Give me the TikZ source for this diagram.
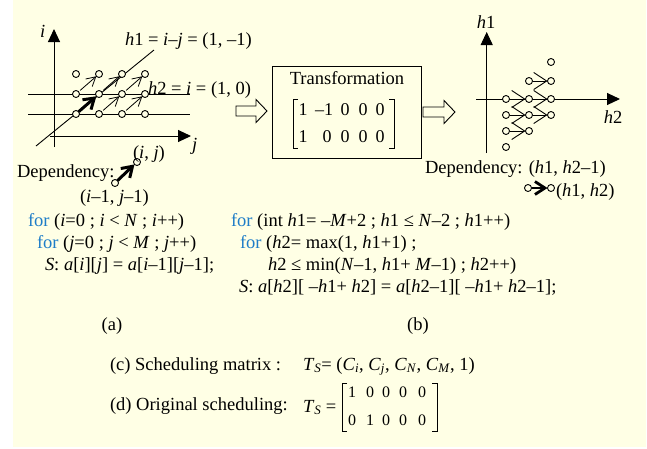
\documentclass[tikz,border=0pt]{standalone}
\usepackage{fontspec}
\setmainfont{Liberation Serif}
\usetikzlibrary{arrows.meta}
\definecolor{bgy}{RGB}{255,255,229}
\definecolor{forblue}{RGB}{30,125,200}
\newcommand{\kw}[1]{{\color{forblue}#1}}
\newcommand{\vv}[1]{\textit{#1}}
\begin{document}
\begin{tikzpicture}[x=1pt,y=-1pt,
  every node/.style={font=\fontsize{18.5}{22}\selectfont, inner sep=0pt, outer sep=0pt},
  txt/.style={anchor=base west},
  ctxt/.style={anchor=base},
  mtx/.style={anchor=base, font=\fontsize{18}{20}\selectfont},
  mtxs/.style={anchor=base, font=\fontsize{16}{18}\selectfont},
  dot/.style={circle, draw, fill=bgy, minimum size=7pt, line width=0.9pt},
  axis/.style={line width=1pt, -{Triangle[length=13pt,width=12pt]}},
  thinline/.style={line width=0.9pt},
  thinarr/.style={line width=0.8pt, -{Straight Barb[length=9pt,width=10pt]}, shorten <=2pt},
  boldarr/.style={line width=3pt, -{Straight Barb[length=10pt,width=13pt]}},
  vee/.style={line width=0.9pt, -{Straight Barb[length=13pt,width=17pt]}},
  boldvee/.style={line width=2.8pt, -{Straight Barb[length=10pt,width=13pt]}},
  blockarr/.style={line width=0.9pt, fill=bgy},
  bracket/.style={line width=0.9pt}
]
\useasboundingbox (0,0) rectangle (647,448);
\fill[white] (0,0) rectangle (647,448);
\fill[bgy] (13,0) rectangle (646,447);

% ---------- left lattice ----------
\coordinate (iaxB) at (54,147); \coordinate (iaxT) at (54,29);
\coordinate (jaxL) at (50,136); \coordinate (jaxR) at (191,136);
\coordinate (hlAa) at (28,94);  \coordinate (hlAb) at (190,94);
\coordinate (hlBa) at (28,114); \coordinate (hlBb) at (190,114);
\coordinate (dgA) at (36,146);  \coordinate (dgB) at (154,50);
\draw[thinline] (hlAa) -- (hlAb);
\draw[thinline] (hlBa) -- (hlBb);
\draw[thinline] (dgA) -- (dgB);
\draw[axis] (iaxB) -- (iaxT);
\draw[axis] (jaxL) -- (jaxR);
\node[txt] (ilab) at (40,37) {\vv{i}};
\node[txt] (jlab) at (192,150) {\vv{j}};
\foreach \c in {0,...,3}{\foreach \r in {0,1,2}{
  \node[dot] (g\c\r) at ({76+23*\c},{114-20*\r}) {};}}
\foreach \a/\b in {10/21,20/31,01/12,11/22,21/32}{\draw[thinarr] (g\a) -- (g\b);}
\draw[boldarr] (g00) -- (g11);
\node[txt] (h1lab) at (125,45) {\vv{h}1 = \vv{i}–\vv{j} = (1, –1)};
\node[txt] (h2lab) at (148,94) {\vv{h}2 = \vv{i} = (1, 0)};

% dependency (left)
\node[txt] (depL) at (17,177) {Dependency:};
\node[dot] (dl1) at (115,183) {};
\node[dot] (dl2) at (137,162) {};
\draw[boldarr] (dl1) -- (dl2);
\node[txt] (ijlab) at (133,158) {(\vv{i}, \vv{j})};
\node[txt] (ijmlab) at (80,202) {(\vv{i}–1, \vv{j}–1)};

% ---------- block arrows ----------
\draw[blockarr] (236,106) -- (256,106) -- (256,99.5) -- (267,111) -- (256,122.5) -- (256,116) -- (236,116) -- cycle;
\draw[blockarr] (423,107) -- (444,107) -- (444,100.5) -- (455,112) -- (444,123.5) -- (444,117) -- (423,117) -- cycle;

% ---------- transformation box ----------
\node[draw, line width=1pt, minimum width=149pt, minimum height=92pt] (tbox) at (346.5,112) {};
\node[ctxt] (ttl) at (347,84) {Transformation};
\draw[bracket] (298,99) -- (293,99) -- (293,148) -- (298,148);
\draw[bracket] (389,99) -- (394,99) -- (394,148) -- (389,148);
\node[mtx] (ta1) at (303,115) {1};
\node[mtx, anchor=base east] (ta2) at (333,115) {–1};
\node[mtx] (ta3) at (345,115) {0};
\node[mtx] (ta4) at (363,115) {0};
\node[mtx] (ta5) at (380,115) {0};
\node[mtx] (tb1) at (303,142) {1};
\node[mtx] (tb2) at (327,142) {0};
\node[mtx] (tb3) at (345,142) {0};
\node[mtx] (tb4) at (363,142) {0};
\node[mtx] (tb5) at (380,142) {0};

% ---------- right lattice ----------
\coordinate (h1B) at (486.7,153); \coordinate (h1T) at (486.7,32);
\coordinate (h2L) at (476,99);    \coordinate (h2R) at (620,99);
\draw[axis] (h1B) -- (h1T);
\draw[axis] (h2L) -- (h2R);
\node[ctxt] (h1ax) at (486,28) {\vv{h}1};
\node[ctxt] (h2ax) at (613,123) {\vv{h}2};
\node[dot] (r02) at (551,62) {};
\node[dot] (r11) at (529,81) {};
\node[dot] (r12) at (551,81) {};
\node[dot] (r20) at (506,99) {};
\node[dot] (r21) at (529,99) {};
\node[dot] (r22) at (551,99) {};
\node[dot] (r30) at (506,115) {};
\node[dot] (r31) at (529,115) {};
\node[dot] (r32) at (551,115) {};
\node[dot] (r40) at (506,131) {};
\node[dot] (r41) at (529,131) {};
\node[dot] (r50) at (506,147) {};
\foreach \a/\b in {11/12,20/21,21/22,30/31,31/32,40/41}{\draw[vee] (r\a) -- (r\b);}

% dependency (right)
\node[txt] (depR) at (425,173) {Dependency: (\vv{h}1, \vv{h}2–1)};
\node[dot] (dr1) at (528,188) {};
\node[dot] (dr2) at (551,188) {};
\draw[boldvee] (dr1) -- (dr2);
\node[txt] (hhlab) at (556,196) {(\vv{h}1, \vv{h}2)};

% ---------- code (a) ----------
\node[txt] (ca1) at (28,226) {\kw{for} (\vv{i}=0 ; \vv{i} < \vv{N} ; \vv{i}++)};
\node[txt] (ca2) at (37,248) {\kw{for} (\vv{j}=0 ; \vv{j} < \vv{M} ; \vv{j}++)};
\node[txt] (ca3) at (45,270) {\vv{S}: \vv{a}[\vv{i}][\vv{j}] = \vv{a}[\vv{i}–1][\vv{j}–1];};
\node[ctxt] (capa) at (112,330) {(a)};

% ---------- code (b) ----------
\node[txt] (cb1) at (231,226) {\kw{for} (int \vv{h}1= –\vv{M}+2 ; \vv{h}1 ≤ \vv{N}–2 ; \vv{h}1++)};
\node[txt] (cb2) at (240,248) {\kw{for} (\vv{h}2= max(1, \vv{h}1+1) ;};
\node[txt] (cb3) at (268,270) {\vv{h}2 ≤ min(\vv{N}–1, \vv{h}1+ \vv{M}–1) ; \vv{h}2++)};
\node[txt] (cb4) at (239,292) {\vv{S}: \vv{a}[\vv{h}2][ –\vv{h}1+ \vv{h}2] = \vv{a}[\vv{h}2–1][ –\vv{h}1+ \vv{h}2–1];};
\node[ctxt] (capb) at (418,330) {(b)};

% ---------- (c) and (d) ----------
\node[txt] (lc) at (110,370) {(c) Scheduling matrix :};
\node[txt] (tc) at (303,370) {\vv{T}\textsubscript{\vv{S}}= (\vv{C}\textsubscript{\vv{i}}, \vv{C}\textsubscript{\vv{j}}, \vv{C}\textsubscript{\vv{N}}, \vv{C}\textsubscript{\vv{M}}, 1)};
\node[txt] (ld) at (110,410) {(d) Original scheduling:};
\node[txt] (td) at (303,412) {\vv{T}\textsubscript{\vv{S}} =};
\draw[bracket] (347,383) -- (342,383) -- (342,431) -- (347,431);
\draw[bracket] (432,383) -- (437,383) -- (437,431) -- (432,431);
\node[mtxs] (da1) at (352,397) {1};
\node[mtxs] (da2) at (370,397) {0};
\node[mtxs] (da3) at (386,397) {0};
\node[mtxs] (da4) at (403,397) {0};
\node[mtxs] (da5) at (422,397) {0};
\node[mtxs] (db1) at (352,425) {0};
\node[mtxs] (db2) at (370,425) {1};
\node[mtxs] (db3) at (386,425) {0};
\node[mtxs] (db4) at (403,425) {0};
\node[mtxs] (db5) at (422,425) {0};
\end{tikzpicture}
\end{document}
